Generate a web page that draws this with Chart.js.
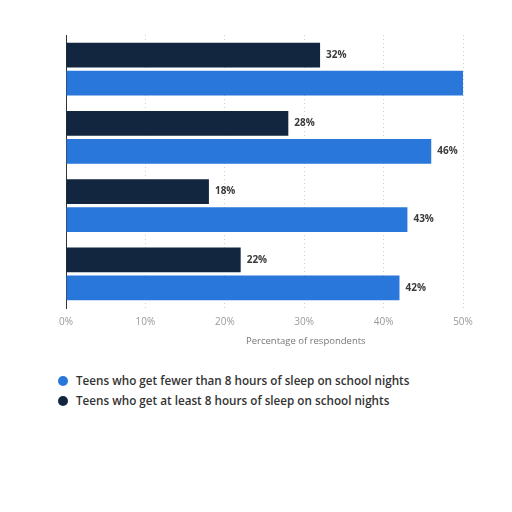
<!DOCTYPE html>
<html>
<head>
<meta charset="utf-8">
<script src="https://cdn.jsdelivr.net/npm/chart.js@4.4.1/dist/chart.umd.min.js"></script>
<style>
    html, body { margin: 0; padding: 0; background: #fff; }
    #wrap { position: relative; width: 512px; height: 512px; }
    #chartSono { position: absolute; left: 0; top: 0; }
    #tituloX { position: absolute; left: 246px; top: 334px; font-family: "Open Sans", sans-serif; font-size: 9.5px; color: #777; white-space: nowrap; }
    #legenda { position: absolute; left: 58px; top: 372px; font-family: "Open Sans", sans-serif; font-size: 11.7px; font-weight: 600; color: #333; }
    .item { height: 20px; line-height: 16px; white-space: nowrap; }
    .dot { display: inline-block; width: 10px; height: 10px; border-radius: 50%; vertical-align: -1px; margin-right: 8px; }
</style>
</head>
<body>
<div id="wrap">
    <canvas id="chartSono" width="512" height="346"></canvas>
    <div id="tituloX">Percentage of respondents</div>
    <div id="legenda"></div>
</div>
<script>
// categorias (rotulos nao aparecem no grafico)
var grupos = ['Grupo 1', 'Grupo 2', 'Grupo 3', 'Grupo 4'];
var serieMenos8 = [50, 46, 43, 42];   // primeira barra passa do limite do eixo
var serieMais8 = [32, 28, 18, 22];
var ticksX = [0, 10, 20, 30, 40, 50];

var corAzul = '#2a77dc';
var corEscura = '#13263f';
var eixoMax = 50;

// plugin simples para os rotulos no fim das barras
var rotulosBarras = {
    id: 'rotulosBarras',
    afterDatasetsDraw: function (chart) {
        var ctx = chart.ctx;
        ctx.save();
        ctx.font = 'bold 10px "Open Sans", sans-serif';
        ctx.fillStyle = '#3a3a3a';
        ctx.textBaseline = 'middle';
        ctx.textAlign = 'left';
        chart.data.datasets.forEach(function (ds, i) {
            chart.getDatasetMeta(i).data.forEach(function (bar, j) {
                if (ds.data[j] >= eixoMax) return;
                ctx.fillText(ds.data[j] + '%', bar.x + 6, bar.y);
            });
        });
        ctx.restore();
    }
};

var chartSonoInst = new Chart(document.getElementById('chartSono'), {
    type: 'bar',
    data: {
        labels: grupos,
        datasets: [
            { label: 'Teens who get at least 8 hours of sleep on school nights', data: serieMais8, backgroundColor: corEscura, categoryPercentage: 0.82, barPercentage: 0.89 },
            { label: 'Teens who get fewer than 8 hours of sleep on school nights', data: serieMenos8, backgroundColor: corAzul, categoryPercentage: 0.82, barPercentage: 0.89 }
        ]
    },
    options: {
        responsive: false,
        animation: false,
        indexAxis: 'y',
        layout: { padding: { left: 66, right: 49, top: 35, bottom: 10 } },
        plugins: { legend: { display: false }, tooltip: { enabled: false } },
        scales: {
            x: {
                min: 0, max: eixoMax,
                afterBuildTicks: function (axis) { axis.ticks = ticksX.map(function (v) { return { value: v }; }); },
                grid: { color: '#cfcfcf', drawTicks: false, tickLength: 0 },
                border: { display: false, dash: [1, 3] },
                ticks: { color: '#999', padding: 8, font: { family: '"Open Sans", sans-serif', size: 10 }, callback: function (v) { return v + '%'; } }
            },
            y: {
                ticks: { display: false },
                grid: { display: false, drawTicks: false },
                border: { display: true, color: '#333', width: 1 }
            }
        }
    },
    plugins: [rotulosBarras]
});

// legenda em HTML (azul primeiro, como na referencia)
var legenda = document.getElementById('legenda');
chartSonoInst.data.datasets.slice().reverse().forEach(function (ds) {
    var div = document.createElement('div');
    div.className = 'item';
    div.innerHTML = '<span class="dot" style="background:' + ds.backgroundColor + '"></span>' + ds.label;
    legenda.appendChild(div);
});
</script>
</body>
</html>
